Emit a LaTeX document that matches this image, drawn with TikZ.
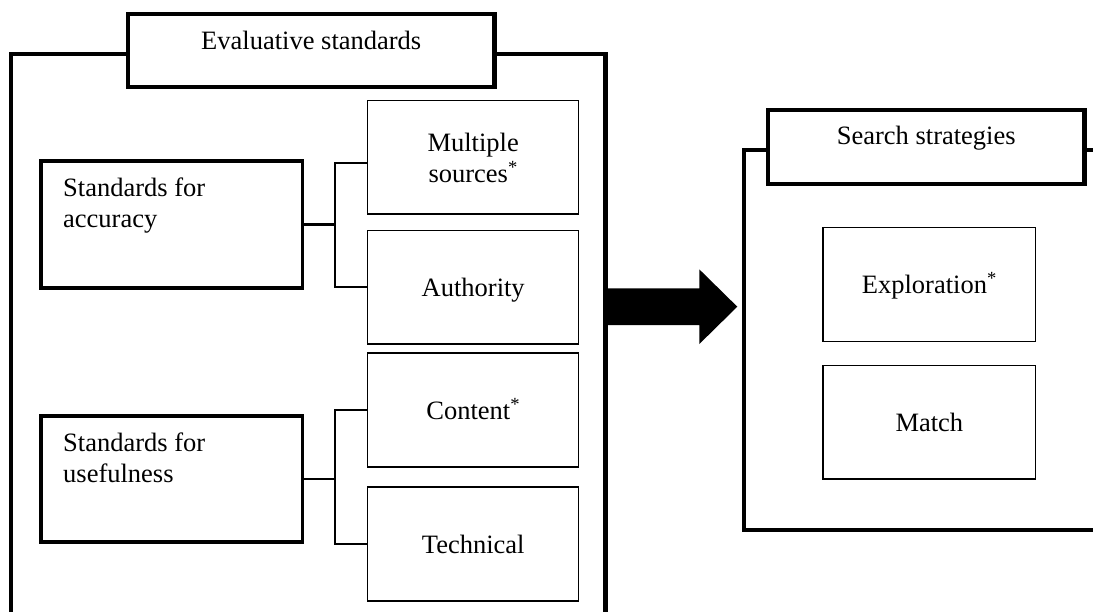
\documentclass[tikz,border=0pt]{standalone}
\usepackage{fontspec}
\setmainfont{Liberation Serif}
\usetikzlibrary{calc}
\newcommand\diagfont{\fontsize{26.5}{31}\selectfont}
\tikzset{
  framebox/.style={draw, line width=4.3pt, inner sep=0pt},
  titlebox/.style={draw, line width=4.3pt, fill=white, inner sep=0pt},
  groupbox/.style={draw, line width=3.3pt, inner sep=0pt},
  itembox/.style={draw, line width=1.5pt, inner sep=0pt, align=center, font=\diagfont,
                  text height=18.5pt, text depth=0pt},
  lbl/.style={font=\diagfont, inner sep=0pt},
  conn/.style={line width=2.2pt},
  blockarrow/.style={fill=black}
}
\begin{document}
\begin{tikzpicture}[x=1pt,y=-1pt]
\path[use as bounding box, fill=white] (0,0) rectangle (1093,612);
\clip (0,0) rectangle (1093,612);

% outer frames
\node[framebox, minimum width=594.5pt, minimum height=586pt] (evalframe) at (308.25,347) {};
\node[framebox, minimum width=366pt, minimum height=380pt] (searchframe) at (927,340) {};

% title boxes
\node[titlebox, minimum width=366.5pt, minimum height=73pt] (evtitle) at (311.25,50.5) {};
\node[lbl, anchor=base] (evtitletext) at ($(evtitle.north)+(0,38)$) {Evaluative standards};
\node[titlebox, minimum width=316.5pt, minimum height=74pt] (sstitle) at (926.25,147) {};
\node[lbl, anchor=base] (sstitletext) at ($(sstitle.north)+(0,36.7)$) {Search strategies};

% group boxes (text baseline = last line)
\node[groupbox, minimum width=261.5pt, minimum height=127pt] (stdacc) at (171.75,224.5) {};
\node[lbl, align=left, anchor=base west] (stdacctext) at (63,228) {Standards for\\accuracy};
\node[groupbox, minimum width=261.5pt, minimum height=126pt] (stduse) at (171.75,479) {};
\node[lbl, align=left, anchor=base west] (stdusetext) at (63,482.7) {Standards for\\usefulness};

% item boxes
\node[itembox, minimum width=211pt, minimum height=113.3pt, text height=49.5pt, text depth=0pt] (ms) at (473.2,157.35) {Multiple\\sources\textsuperscript{*}};
\node[itembox, minimum width=211pt, minimum height=113.3pt] (auth) at (473.2,287.35) {Authority};
\node[itembox, minimum width=211pt, minimum height=114pt] (cont) at (473.2,410) {Content\textsuperscript{*}};
\node[itembox, minimum width=211pt, minimum height=114pt] (tech) at (473.2,544) {Technical};
\node[itembox, minimum width=212.7pt, minimum height=114pt] (expl) at (929.35,284.7) {Exploration\textsuperscript{*}};
\node[itembox, minimum width=212.7pt, minimum height=113.3pt] (match) at (929.35,422.35) {Match};

% connectors
\coordinate (accj) at (335.3,224.5);
\draw[conn] (stdacc.east) -- (accj);
\draw[conn] ([yshift=-5.3pt]ms.west) -| (accj) |- (auth.west);
\coordinate (usej) at (335.3,479);
\draw[conn] (stduse.east) -- (usej);
\draw[conn] (cont.west) -| (usej) |- (tech.west);

% block arrow
\coordinate (arrowy) at (0,306.7);
\coordinate (atail) at (evalframe.east |- arrowy);
\coordinate (atip) at (737.3,306.7);
\fill[blockarrow] ($(atail)+(0,-18.35)$) -| ($(atip)+(-38,-37.35)$) -- (atip)
  -- ($(atip)+(-38,37.35)$) |- ($(atail)+(0,18.35)$) -- cycle;
\end{tikzpicture}
\end{document}
